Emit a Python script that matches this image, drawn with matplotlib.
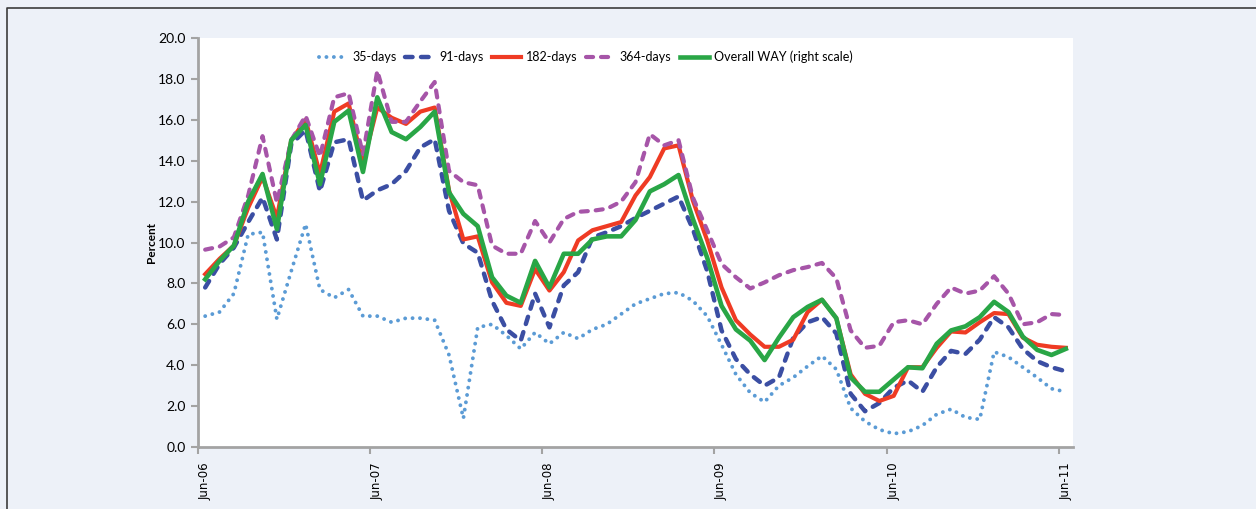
import numpy as np
import matplotlib
matplotlib.use("Agg")
import matplotlib.pyplot as plt
from matplotlib.lines import Line2D

# monthly yields, Jun-06 .. Jun-11 (61 months)
s35 = [6.4, 6.6, 7.5, 10.4, 10.5, 6.25, 8.6, 10.9, 7.7, 7.3, 7.7, 6.4, 6.4, 6.1, 6.3, 6.3,
       6.2, 4.5, 1.4, 5.85, 6.0, 5.45, 4.8, 5.6, 5.05, 5.6, 5.3, 5.75, 6.0, 6.5, 7.0, 7.25,
       7.5, 7.55, 7.15, 6.4, 5.0, 3.55, 2.65, 2.2, 3.0, 3.4, 3.95, 4.45, 3.8, 1.9, 1.25, 0.85,
       0.65, 0.75, 1.05, 1.6, 1.85, 1.45, 1.35, 4.65, 4.4, 3.9, 3.4, 2.85, 2.7]
s91 = [7.8, 8.95, 9.75, 11.0, 12.2, 10.15, 14.8, 15.5, 12.5, 14.9, 15.05, 12.05, 12.55, 12.85,
       13.5, 14.65, 15.05, 11.55, 9.95, 9.5, 7.15, 5.75, 5.2, 7.5, 5.85, 7.9, 8.55, 10.25, 10.5,
       10.8, 11.2, 11.55, 11.9, 12.25, 10.65, 8.6, 5.7, 4.3, 3.55, 3.0, 3.4, 5.35, 6.1, 6.35,
       5.55, 2.6, 1.75, 2.15, 2.9, 3.25, 2.7, 3.9, 4.7, 4.55, 5.25, 6.35, 5.85, 4.8, 4.2, 3.9, 3.7]
s182 = [8.45, 9.2, 9.85, 11.7, 13.2, 11.2, 15.0, 16.0, 13.35, 16.4, 16.8, 13.85, 16.6, 16.1,
        15.8, 16.4, 16.6, 12.55, 10.15, 10.3, 8.05, 7.05, 6.9, 8.7, 7.65, 8.55, 10.1, 10.6, 10.8,
        11.0, 12.3, 13.2, 14.6, 14.75, 12.05, 10.1, 7.8, 6.2, 5.5, 4.9, 4.9, 5.25, 6.6, 7.2, 6.3,
        3.55, 2.6, 2.25, 2.5, 3.9, 3.9, 4.85, 5.65, 5.6, 6.1, 6.55, 6.5, 5.35, 5.0, 4.9, 4.85]
s364 = [9.65, 9.8, 10.25, 12.3, 15.2, 11.95, 15.0, 16.2, 14.2, 17.1, 17.3, 14.3, 18.4, 15.9,
        15.9, 16.9, 17.85, 13.5, 12.95, 12.8, 9.85, 9.45, 9.45, 11.05, 10.0, 11.15, 11.5, 11.55,
        11.65, 12.0, 12.95, 15.3, 14.75, 15.0, 12.2, 10.6, 8.95, 8.3, 7.75, 8.05, 8.4, 8.65, 8.8,
        9.0, 8.25, 5.7, 4.85, 4.95, 6.1, 6.2, 6.0, 7.0, 7.8, 7.5, 7.65, 8.35, 7.5, 6.0, 6.1, 6.5, 6.45]
s_way = [8.2, 9.1, 9.85, 12.0, 13.35, 10.65, 15.0, 15.75, 12.85, 15.9, 16.45, 13.45, 17.1, 15.4,
         15.05, 15.65, 16.4, 12.45, 11.4, 10.8, 8.3, 7.4, 7.05, 9.1, 7.8, 9.45, 9.45, 10.15, 10.3,
         10.3, 11.1, 12.5, 12.85, 13.3, 11.15, 9.25, 6.9, 5.75, 5.2, 4.25, 5.35, 6.35, 6.85, 7.2,
         6.3, 3.4, 2.7, 2.7, 3.3, 3.9, 3.85, 5.05, 5.7, 5.9, 6.35, 7.1, 6.6, 5.4, 4.75, 4.5, 4.8]

tick_labels = ["Jun-06", "Jun-07", "Jun-08", "Jun-09", "Jun-10", "Jun-11"]
series_names = ["35-days", "91-days", "182-days", "364-days", "Overall WAY (right scale)"]

bg = "#edf1f8"
axis_grey = "#a3a3a3"

fig = plt.figure(figsize=(12.56, 5.09), dpi=100, facecolor=bg)
ax = fig.add_axes([198 / 1256, 62 / 509, 875 / 1256, 409 / 509])
ax.set_facecolor("white")

x = np.arange(len(s35))

ax.plot(x, s35, color="#5b9bd5", lw=2.8, dashes=(0.01, 1.9), dash_capstyle="round",
        label=series_names[0])
ax.plot(x, s91, color="#3b4ea3", lw=3.2, dashes=(1.7, 1.9), dash_capstyle="round",
        label=series_names[1])
ax.plot(x, s182, color="#ef3b24", lw=3.0, label=series_names[2])
ax.plot(x, s364, color="#a655a8", lw=3.0, dashes=(1.7, 1.9), dash_capstyle="round",
        label=series_names[3])
ax.plot(x, s_way, color="#29a646", lw=3.3, label=series_names[4])

ax.set_xlim(-0.5, len(x) - 0.5)
ax.set_ylim(0, 20)
ax.set_yticks(np.arange(0, 20.1, 2))
ax.set_yticklabels([f"{v:.1f}" for v in np.arange(0, 20.1, 2)], family="Lato", fontsize=10)

# tick marks on category boundaries, labels on category centres
ax.set_xticks(np.arange(-0.5, len(x), 12))
ax.set_xticklabels([])
ax.set_xticks(np.arange(0, len(x), 12), minor=True)
ax.set_xticklabels(tick_labels, minor=True, rotation=90, family="DejaVu Sans", fontsize=8.5)
ax.tick_params(axis="x", which="major", length=5, width=1.5, color=axis_grey)
ax.tick_params(axis="x", which="minor", length=0, pad=11)
ax.tick_params(axis="y", length=5, width=1.5, color=axis_grey, pad=4)

for s in ["top", "right"]:
    ax.spines[s].set_visible(False)
for s in ["left", "bottom"]:
    ax.spines[s].set_color(axis_grey)
    ax.spines[s].set_linewidth(2)

ax.set_ylabel("Percent", family="Lato", fontsize=8.5, fontweight="bold")
ax.yaxis.set_label_coords(-0.047, 0.5)

leg = ax.legend(loc="upper center", bbox_to_anchor=(0.443, 0.997), ncol=5, frameon=False,
                prop={"family": "Lato", "size": 9}, handlelength=2.3, handletextpad=0.4,
                columnspacing=0.7)

# dark frame line along top and left of the panel
fig.add_artist(Line2D([7 / 1256, 7 / 1256, 1], [0, 1 - 8 / 509, 1 - 8 / 509],
                      color="#3c3c3c", lw=1.2, transform=fig.transFigure))

fig.savefig("out.png", dpi=100, facecolor=bg)
